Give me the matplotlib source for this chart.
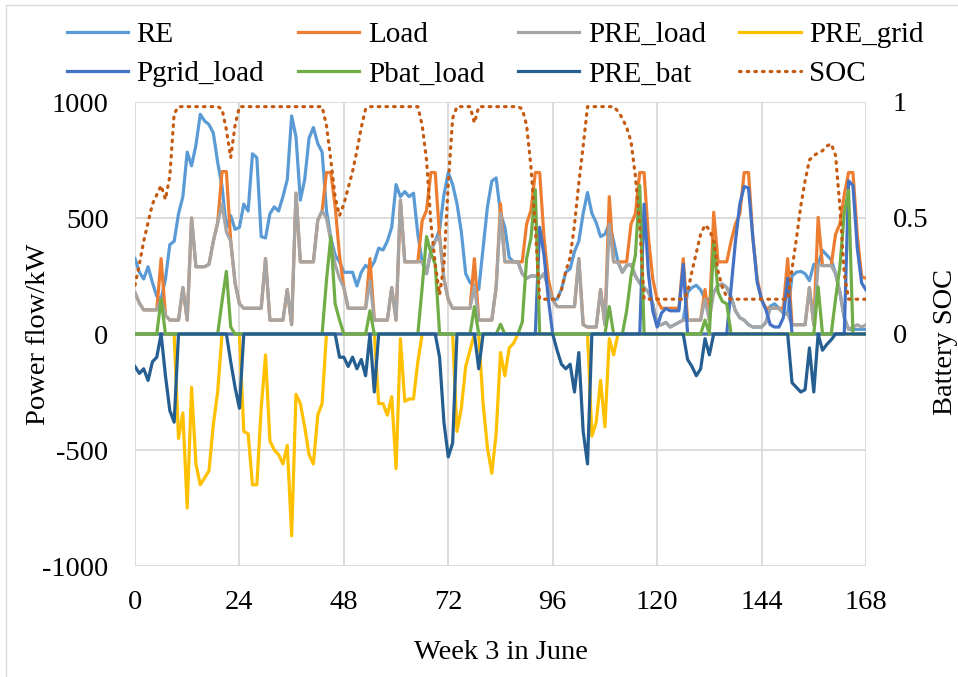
import numpy as np
import matplotlib
matplotlib.use("Agg")
import matplotlib.pyplot as plt
from matplotlib.lines import Line2D

# hourly values, one row per day (last value = hour 168)
hours = np.arange(169)

re_kw = [325, 266, 237, 290, 222, 163, 150, 237, 385, 400, 518, 592, 784, 725, 814, 947, 918, 903, 866, 740, 636, 459, 510, 451,
         460, 560, 530, 777, 760, 420, 414, 518, 548, 530, 592, 666, 940, 850, 577, 666, 844, 890, 821, 784, 533, 414, 340, 311,
         266, 266, 266, 207, 266, 296, 281, 311, 370, 362, 400, 460, 644, 592, 614, 592, 607, 430, 311, 260, 360, 400, 450, 600,
         696, 644, 562, 440, 260, 222, 207, 192, 370, 548, 659, 673, 520, 460, 330, 311, 311, 260, 240, 250, 250, 240, 260, 200,
         148, 150, 192, 266, 281, 355, 400, 520, 610, 520, 480, 420, 430, 474, 400, 311, 266, 296, 300, 250, 220, 200, 180, 130,
         40, 40, 50, 30, 40, 50, 60, 180, 200, 210, 190, 150, 150, 180, 210, 215, 200, 160, 100, 70, 60, 40, 30, 30,
         30, 50, 120, 130, 110, 90, 85, 250, 266, 270, 260, 230, 300, 300, 360, 340, 320, 260, 180, 70, 20, 20, 20, 20,
         20]

load = [178, 133, 104, 104, 104, 104, 325, 80, 60, 60, 60, 200, 60, 500, 290, 290, 290, 300, 400, 480, 700, 700, 400, 220,
        130, 111, 111, 111, 111, 111, 325, 60, 60, 60, 60, 192, 40, 607, 311, 311, 311, 311, 490, 530, 696, 696, 550, 340,
        200, 111, 111, 111, 111, 111, 325, 60, 60, 60, 60, 200, 60, 577, 311, 311, 311, 311, 488, 533, 696, 696, 420, 237,
        148, 111, 111, 111, 111, 111, 325, 60, 60, 60, 60, 200, 562, 311, 311, 311, 311, 311, 474, 533, 696, 696, 414, 237,
        148, 118, 118, 118, 118, 118, 325, 40, 30, 30, 30, 192, 40, 592, 311, 311, 311, 311, 474, 518, 696, 696, 414, 237,
        148, 111, 111, 111, 111, 111, 325, 60, 60, 60, 60, 192, 60, 525, 311, 311, 311, 400, 474, 518, 696, 696, 414, 237,
        148, 111, 111, 111, 111, 111, 325, 40, 40, 40, 40, 200, 40, 503, 295, 295, 295, 430, 474, 600, 696, 696, 427, 247,
        240]

pre_load = [178, 133, 104, 104, 104, 104, 150, 80, 60, 60, 60, 200, 60, 500, 290, 290, 290, 300, 400, 480, 560, 440, 400, 220,
            130, 111, 111, 111, 111, 111, 325, 60, 60, 60, 60, 192, 40, 607, 311, 311, 311, 311, 490, 530, 500, 400, 300, 240,
            200, 111, 111, 111, 111, 111, 230, 60, 60, 60, 60, 200, 60, 577, 311, 311, 311, 311, 311, 260, 360, 400, 420, 237,
            148, 111, 111, 111, 111, 111, 207, 60, 60, 60, 60, 200, 520, 311, 311, 311, 311, 260, 240, 250, 250, 240, 260, 200,
            148, 118, 118, 118, 118, 118, 325, 40, 30, 30, 30, 192, 40, 474, 311, 311, 266, 296, 300, 250, 220, 200, 180, 130,
            40, 40, 50, 30, 40, 50, 60, 60, 60, 60, 60, 150, 60, 180, 210, 215, 200, 160, 100, 70, 60, 40, 30, 30,
            30, 50, 110, 111, 110, 90, 85, 40, 40, 40, 40, 200, 40, 300, 295, 295, 295, 260, 180, 70, 20, 30, 40, 30,
            40]

pre_grid = [0, 0, 0, 0, 0, 0, 0, 0, 0, 0, -450, -340, -750, -230, -560, -650, -620, -590, -390, -250, 0, 0, 0, 0,
            0, -420, -430, -650, -650, -320, -90, -460, -500, -520, -560, -480, -870, -260, -300, -400, -520, -560, -350, -300, 0, 0, 0, 0,
            0, 0, 0, 0, 0, 0, 0, 0, -300, -300, -350, -270, -580, -20, -290, -280, -280, -120, 0, 0, 0, 0, 0, 0,
            0, 0, -420, -320, -140, -70, 0, 0, -300, -490, -600, -430, -80, -180, -60, -40, 0, 0, 0, 0, 0, 0, 0, 0,
            0, 0, 0, 0, 0, 0, 0, 0, 0, -440, -380, -200, -400, -20, -90, 0, 0, 0, 0, 0, 0, 0, 0, 0,
            0, 0, 0, 0, 0, 0, 0, 0, 0, 0, 0, 0, 0, 0, 0, 0, 0, 0, 0, 0, 0, 0, 0, 0,
            0, 0, 0, 0, 0, 0, 0, 0, 0, 0, 0, 0, 0, 0, 0, 0, 0, 0, 0, 0, 0, 0, 0, 0,
            0]

pgrid_load = [0, 0, 0, 0, 0, 0, 0, 0, 0, 0, 0, 0, 0, 0, 0, 0, 0, 0, 0, 0, 0, 0, 0, 0,
              0, 0, 0, 0, 0, 0, 0, 0, 0, 0, 0, 0, 0, 0, 0, 0, 0, 0, 0, 0, 0, 0, 0, 0,
              0, 0, 0, 0, 0, 0, 0, 0, 0, 0, 0, 0, 0, 0, 0, 0, 0, 0, 0, 0, 0, 0, 0, 0,
              0, 0, 0, 0, 0, 0, 0, 0, 0, 0, 0, 0, 0, 0, 0, 0, 0, 0, 0, 0, 0, 460, 340, 150,
              0, 0, 0, 0, 0, 0, 0, 0, 0, 0, 0, 0, 0, 0, 0, 0, 0, 0, 0, 0, 0, 560, 260, 100,
              30, 90, 110, 100, 100, 100, 300, 0, 0, 0, 0, 0, 0, 0, 0, 0, 0, 200, 400, 560, 636, 629, 414, 222,
              148, 104, 40, 30, 30, 70, 240, 0, 0, 0, 0, 0, 0, 0, 0, 0, 0, 0, 0, 0, 660, 640, 370, 220,
              190]

pbat_load = [0, 0, 0, 0, 0, 0, 150, 0, 0, 0, 0, 0, 0, 0, 0, 0, 0, 0, 0, 0, 140, 270, 30, 0,
             0, 0, 0, 0, 0, 0, 0, 0, 0, 0, 0, 0, 0, 0, 0, 0, 0, 0, 0, 0, 230, 420, 130, 60,
             0, 0, 0, 0, 0, 0, 100, 0, 0, 0, 0, 0, 0, 0, 0, 0, 0, 0, 200, 420, 350, 300, 0, 0,
             0, 0, 0, 0, 0, 0, 118, 0, 0, 0, 0, 0, 42, 0, 0, 0, 0, 51, 325, 414, 622, 0, 0, 0,
             0, 0, 0, 0, 0, 0, 0, 0, 0, 0, 0, 0, 0, 118, 0, 0, 0, 100, 250, 340, 640, 0, 0, 0,
             0, 0, 0, 0, 0, 0, 0, 0, 0, 0, 0, 60, 0, 400, 180, 140, 130, 0, 0, 0, 0, 0, 0, 0,
             0, 0, 0, 0, 0, 0, 0, 0, 0, 0, 0, 0, 0, 203, 0, 0, 0, 150, 290, 520, 620, 0, 0, 0,
             0]

pre_bat = [-140, -170, -150, -200, -120, -100, 0, -180, -330, -380, 0, 0, 0, 0, 0, 0, 0, 0, 0, 0, 0, 0, -120, -230,
           -320, 0, 0, 0, 0, 0, 0, 0, 0, 0, 0, 0, 0, 0, 0, 0, 0, 0, 0, 0, 0, 0, 0, -100,
           -100, -140, -100, -150, -110, -180, 0, -250, 0, 0, 0, 0, 0, 0, 0, 0, 0, 0, 0, 0, 0, 0, -100, -380,
           -530, -470, 0, 0, 0, 0, 0, -150, 0, 0, 0, 0, 0, 0, 0, 0, 0, 0, 0, 0, 0, 0, 0, 0,
           0, -70, -130, -150, -130, -250, -80, -420, -560, 0, 0, 0, 0, 0, 0, 0, 0, 0, 0, 0, 0, 0, 0, 0,
           0, 0, 0, 0, 0, 0, 0, -110, -140, -180, -150, -20, -90, 0, 0, 0, 0, 0, 0, 0, 0, 0, 0, 0,
           0, 0, 0, 0, 0, 0, 0, -210, -230, -250, -240, -60, -250, 0, -70, -45, -25, 0, 0, 0, 0, 0, 0, 0,
           0]

soc = [0.21, 0.30, 0.40, 0.48, 0.56, 0.60, 0.64, 0.58, 0.68, 0.95, 0.98, 0.98, 0.98, 0.98, 0.98, 0.98, 0.98, 0.98, 0.98, 0.98, 0.97, 0.88, 0.76, 0.90,
       0.98, 0.98, 0.98, 0.98, 0.98, 0.98, 0.98, 0.98, 0.98, 0.98, 0.98, 0.98, 0.98, 0.98, 0.98, 0.98, 0.98, 0.98, 0.98, 0.98, 0.90, 0.75, 0.59, 0.51,
       0.56, 0.63, 0.70, 0.79, 0.89, 0.97, 0.98, 0.98, 0.98, 0.98, 0.98, 0.98, 0.98, 0.98, 0.98, 0.98, 0.98, 0.98, 0.90, 0.75, 0.48, 0.30, 0.17, 0.30,
       0.65, 0.93, 0.98, 0.98, 0.98, 0.98, 0.91, 0.98, 0.98, 0.98, 0.98, 0.98, 0.98, 0.98, 0.98, 0.98, 0.98, 0.97, 0.90, 0.72, 0.46, 0.15, 0.15, 0.15,
       0.15, 0.15, 0.19, 0.27, 0.33, 0.47, 0.65, 0.81, 0.98, 0.98, 0.98, 0.98, 0.98, 0.98, 0.98, 0.96, 0.93, 0.89, 0.83, 0.68, 0.47, 0.15, 0.15, 0.15,
       0.15, 0.15, 0.15, 0.15, 0.15, 0.15, 0.15, 0.18, 0.27, 0.35, 0.43, 0.47, 0.45, 0.40, 0.27, 0.20, 0.16, 0.15, 0.15, 0.15, 0.15, 0.15, 0.15, 0.15,
       0.15, 0.15, 0.15, 0.15, 0.15, 0.15, 0.15, 0.28, 0.41, 0.55, 0.66, 0.75, 0.77, 0.78, 0.79, 0.81, 0.82, 0.77, 0.55, 0.26, 0.15, 0.15, 0.15, 0.15,
       0.15]

plt.rcParams['font.family'] = ['Liberation Serif', 'DejaVu Serif']
plt.rcParams['font.size'] = 20.5
plt.rcParams['axes.unicode_minus'] = False

fig = plt.figure(figsize=(9.58, 6.77), dpi=100)
ax = fig.add_axes([135/958, 1 - 566/677, (866 - 135)/958, (566 - 102)/677])

lw = 2.3
h_re, = ax.plot(hours, re_kw, color='#5B9BD5', lw=lw, label='RE')
h_load, = ax.plot(hours, load, color='#ED7D31', lw=lw, label='Load')
h_pl, = ax.plot(hours, pre_load, color='#A5A5A5', lw=lw, label='PRE_load')
h_pg, = ax.plot(hours, pre_grid, color='#FFC000', lw=lw, label='PRE_grid')
h_gl, = ax.plot(hours, pgrid_load, color='#4472C4', lw=lw, label='Pgrid_load')
h_bl, = ax.plot(hours, pbat_load, color='#70AD47', lw=lw, label='Pbat_load')
h_pb, = ax.plot(hours, pre_bat, color='#255E91', lw=lw, label='PRE_bat')

ax.set_xlim(0, 168)
ax.set_ylim(-1000, 1000)
ax.set_xticks(range(0, 169, 24))
ax.set_yticks([-1000, -500, 0, 500, 1000])
ax.grid(True, color='#d9d9d9', lw=1.3)
ax.set_axisbelow(True)
ax.tick_params(axis='x', length=0, pad=17)
ax.tick_params(axis='y', length=0, pad=19)
ax.set_xlabel('Week 3 in June', labelpad=18)
ax.set_ylabel('Power flow/kW')
ax.yaxis.set_label_coords(-0.115, 0.5)

ax2 = ax.twinx()
h_soc, = ax2.plot(hours, soc, color='#C55A11', lw=lw, ls=(0, (0.5, 1.9)),
                  dash_capstyle='round', label='SOC')
ax2.set_ylim(-1, 1)
ax2.set_yticks([0, 0.5, 1])
ax2.set_yticklabels(['0', '0.5', '1'])
ax2.tick_params(length=0, pad=19)
ax2.set_ylabel('Battery SOC')
ax2.yaxis.set_label_coords(1.091, 0.483)

for a in (ax, ax2):
    for s in a.spines.values():
        s.set_visible(False)

# legend is filled column by column, so order the handles to read row by row
handles = [h_re, h_gl, h_load, h_bl, h_pl, h_pb, h_pg, h_soc]
fig.legend(handles=handles, loc='upper center', bbox_to_anchor=(0.517, 1.007), ncol=4,
           frameon=False, fontsize=21, handlelength=2.1, handletextpad=0.3,
           columnspacing=1.15, labelspacing=0.45)

# chart-area border, only the top and left edges show in the screenshot
fig.add_artist(Line2D([0.006, 0.006, 1.0], [0.0, 0.993, 0.993], transform=fig.transFigure,
                      color='#d9d9d9', lw=1))

fig.savefig('out.png', dpi=100)
